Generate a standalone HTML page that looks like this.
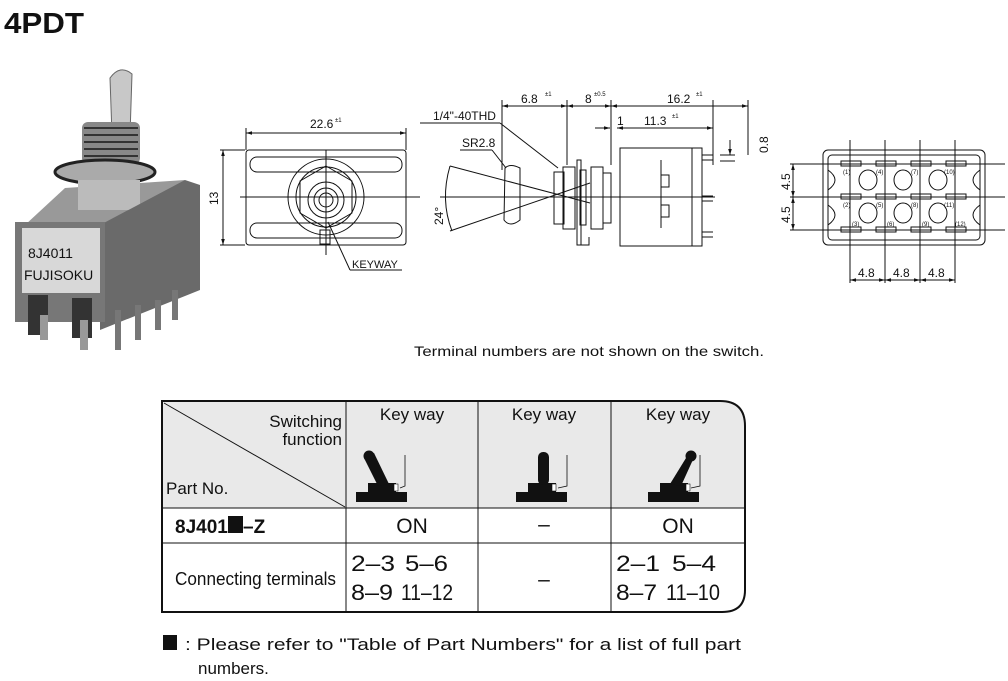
<!DOCTYPE html>
<html><head><meta charset="utf-8"><style>
body{margin:0;background:#fff;width:1008px;height:681px;overflow:hidden;font-family:"Liberation Sans",sans-serif}
svg{display:block}
text{font-family:"Liberation Sans",sans-serif;fill:#111}
</style></head><body>
<svg width="1008" height="681" viewBox="0 0 1008 681" xmlns="http://www.w3.org/2000/svg">
<defs>
<marker id="a" viewBox="0 0 10 10" refX="10" refY="5" markerWidth="6" markerHeight="6" orient="auto-start-reverse"><path d="M0,2 L10,5 L0,8z" fill="#111"/></marker>
</defs>
<text x="4" y="33" font-size="29" font-weight="bold" textLength="80" lengthAdjust="spacingAndGlyphs">4PDT</text>

<!-- photo -->
<g>
<path d="M110,78 Q120,64 132,74 L130,135 L112,135 Z" fill="#c8c8c8" stroke="#666"/>
<rect x="82" y="122" width="58" height="42" rx="6" fill="#888"/>
<path d="M84,128 h54 M84,135 h54 M84,142 h54 M84,149 h54 M84,156 h54" stroke="#333" stroke-width="2"/>
<ellipse cx="105" cy="172" rx="50" ry="12" fill="#aaa" stroke="#222" stroke-width="3"/>
<path d="M25,225 L65,188 L185,180 L150,225 Z" fill="#999"/>
<rect x="78" y="180" width="62" height="30" fill="#bbb"/>
<path d="M100,225 L185,180 L200,185 L200,290 L100,330 Z" fill="#6a6a6a"/>
<rect x="15" y="222" width="90" height="100" fill="#777"/>
<rect x="22" y="228" width="78" height="65" fill="#d8d8d8"/>
<text x="28" y="258" font-size="14" fill="#333">8J4011</text>
<text x="24" y="280" font-size="14" fill="#333">FUJISOKU</text>
<rect x="28" y="295" width="20" height="40" fill="#333"/>
<rect x="72" y="298" width="20" height="40" fill="#333"/>
<rect x="40" y="315" width="8" height="25" fill="#999"/>
<rect x="80" y="320" width="8" height="30" fill="#999"/>
<rect x="115" y="310" width="6" height="40" fill="#777"/>
<rect x="135" y="305" width="6" height="35" fill="#777"/>
<rect x="155" y="300" width="6" height="30" fill="#777"/>
<rect x="172" y="290" width="6" height="30" fill="#777"/>
</g>

<!-- front view -->
<g fill="none" stroke="#111" stroke-width="1">
<line x1="246" y1="128" x2="246" y2="150"/><line x1="406" y1="128" x2="406" y2="150"/>
<line x1="246" y1="133" x2="406" y2="133" marker-start="url(#a)" marker-end="url(#a)"/>
<line x1="220" y1="150" x2="245" y2="150"/><line x1="220" y1="245" x2="245" y2="245"/>
<line x1="223" y1="150" x2="223" y2="245" marker-start="url(#a)" marker-end="url(#a)"/>
<rect x="246" y="150" width="160" height="95" rx="3"/>
<rect x="250" y="157" width="152" height="15" rx="7"/>
<rect x="250" y="223" width="152" height="15" rx="7"/>
<line x1="240" y1="197" x2="420" y2="197"/>
<line x1="326" y1="150" x2="326" y2="255"/>
<circle cx="326" cy="197" r="38"/>
<circle cx="326" cy="197" r="30"/>
<polygon points="326,166 352,181 352,213 326,228 300,213 300,181"/>
<circle cx="326" cy="200" r="18"/><circle cx="326" cy="200" r="12"/><circle cx="326" cy="200" r="7"/>
<rect x="320" y="230" width="10" height="14"/>
<line x1="328" y1="222" x2="350" y2="270"/><line x1="350" y1="270" x2="402" y2="270"/>
</g>
<text x="310" y="128" font-size="12">22.6</text><text x="335" y="122" font-size="6">±1</text>
<text x="218" y="205" font-size="12" transform="rotate(-90 218 205)">13</text>
<text x="352" y="268" font-size="11">KEYWAY</text>

<!-- side view -->
<g fill="none" stroke="#111" stroke-width="1">
<line x1="502" y1="100" x2="502" y2="170"/><line x1="567" y1="100" x2="567" y2="165"/><line x1="611" y1="100" x2="611" y2="165"/><line x1="713" y1="100" x2="713" y2="165"/><line x1="748" y1="100" x2="748" y2="155"/>
<line x1="502" y1="106" x2="567" y2="106" marker-start="url(#a)" marker-end="url(#a)"/>
<line x1="567" y1="106" x2="611" y2="106" marker-start="url(#a)" marker-end="url(#a)"/>
<line x1="611" y1="106" x2="748" y2="106" marker-start="url(#a)" marker-end="url(#a)"/>
<line x1="617" y1="128" x2="713" y2="128" marker-start="url(#a)" marker-end="url(#a)"/>
<line x1="595" y1="128" x2="610" y2="128" marker-end="url(#a)"/>
<line x1="420" y1="123" x2="500" y2="123"/><line x1="500" y1="123" x2="558" y2="168"/>
<line x1="460" y1="150" x2="492" y2="150"/><line x1="492" y1="150" x2="506" y2="168"/>
<path d="M450,166 Q440,200 452,231"/>
<line x1="450" y1="166" x2="590" y2="203"/><line x1="450" y1="231" x2="590" y2="183"/>
<path d="M505,168 Q510,163 520,168 L520,220 Q510,228 504,220 Z"/>
<rect x="554" y="172" width="10" height="52"/>
<path d="M563,167 h12 v62 h-12 z M580,170 h6 v55 h-6 z M591,167 h12 v62 h-12z"/>
<rect x="577" y="160" width="4" height="85"/><path d="M577,245 h12 v-8"/>
<rect x="603" y="173" width="8" height="50"/>
<rect x="620" y="148" width="72" height="98"/>
<rect x="692" y="148" width="10" height="98"/>
<path d="M661,160 v68 M661,175 h8 v12 h-8 M661,205 h8 v12 h-8"/>
<line x1="702" y1="155" x2="713" y2="155"/><line x1="702" y1="160" x2="713" y2="160"/>
<line x1="702" y1="196" x2="713" y2="196"/><line x1="702" y1="201" x2="713" y2="201"/>
<line x1="702" y1="232" x2="713" y2="232"/><line x1="702" y1="237" x2="713" y2="237"/>
<line x1="440" y1="197" x2="715" y2="197"/>
<line x1="720" y1="155" x2="735" y2="155"/><line x1="720" y1="161" x2="735" y2="161"/>
<line x1="730" y1="140" x2="730" y2="155" marker-end="url(#a)"/>
</g>
<text x="521" y="103" font-size="12">6.8</text><text x="545" y="96" font-size="6">±1</text>
<text x="585" y="103" font-size="12">8</text><text x="594" y="96" font-size="6">±0.5</text>
<text x="667" y="103" font-size="12">16.2</text><text x="696" y="96" font-size="6">±1</text>
<text x="617" y="125" font-size="12">1</text>
<text x="644" y="125" font-size="12">11.3</text><text x="672" y="118" font-size="6">±1</text>
<text x="433" y="120" font-size="12">1/4"-40THD</text>
<text x="462" y="147" font-size="12">SR2.8</text>
<text x="443" y="225" font-size="12" transform="rotate(-90 443 225)">24°</text>
<text x="768" y="153" font-size="12" transform="rotate(-90 768 153)">0.8</text>

<!-- rear view -->
<g fill="none" stroke="#111" stroke-width="1">
<rect x="823" y="150" width="162" height="95" rx="5"/>
<rect x="828" y="155" width="152" height="85" rx="4"/>
<line x1="790" y1="164" x2="1005" y2="164"/><line x1="790" y1="197" x2="1005" y2="197"/><line x1="790" y1="230" x2="1005" y2="230"/>
<line x1="850" y1="140" x2="850" y2="283"/><line x1="885" y1="140" x2="885" y2="283"/><line x1="920" y1="140" x2="920" y2="283"/><line x1="955" y1="140" x2="955" y2="283"/>
<g>
<rect x="841" y="161" width="20" height="5"/><rect x="876" y="161" width="20" height="5"/><rect x="911" y="161" width="20" height="5"/><rect x="946" y="161" width="20" height="5"/>
<rect x="841" y="194" width="20" height="5"/><rect x="876" y="194" width="20" height="5"/><rect x="911" y="194" width="20" height="5"/><rect x="946" y="194" width="20" height="5"/>
<rect x="841" y="227" width="20" height="5"/><rect x="876" y="227" width="20" height="5"/><rect x="911" y="227" width="20" height="5"/><rect x="946" y="227" width="20" height="5"/>
</g>
<ellipse cx="868" cy="180" rx="9" ry="10"/><ellipse cx="903" cy="180" rx="9" ry="10"/><ellipse cx="938" cy="180" rx="9" ry="10"/>
<ellipse cx="868" cy="213" rx="9" ry="10"/><ellipse cx="903" cy="213" rx="9" ry="10"/><ellipse cx="938" cy="213" rx="9" ry="10"/>
<path d="M828,170 Q842,180 828,190 M828,205 Q842,215 828,225 M980,170 Q966,180 980,190 M980,205 Q966,215 980,225"/>
<line x1="793" y1="164" x2="793" y2="197" marker-start="url(#a)" marker-end="url(#a)"/>
<line x1="793" y1="197" x2="793" y2="230" marker-start="url(#a)" marker-end="url(#a)"/>
<line x1="850" y1="280" x2="885" y2="280" marker-start="url(#a)" marker-end="url(#a)"/>
<line x1="885" y1="280" x2="920" y2="280" marker-start="url(#a)" marker-end="url(#a)"/>
<line x1="920" y1="280" x2="955" y2="280" marker-start="url(#a)" marker-end="url(#a)"/>
</g>
<text x="790" y="190" font-size="12" transform="rotate(-90 790 190)">4.5</text>
<text x="790" y="223" font-size="12" transform="rotate(-90 790 223)">4.5</text>
<text x="858" y="277" font-size="12">4.8</text><text x="893" y="277" font-size="12">4.8</text><text x="928" y="277" font-size="12">4.8</text>
<g font-size="6"><text x="843" y="174">(1)</text><text x="876" y="174">(4)</text><text x="911" y="174">(7)</text><text x="944" y="174">(10)</text>
<text x="843" y="207">(2)</text><text x="876" y="207">(5)</text><text x="911" y="207">(8)</text><text x="944" y="207">(11)</text>
<text x="852" y="226">(3)</text><text x="887" y="226">(6)</text><text x="922" y="226">(9)</text><text x="955" y="226">(12)</text></g>

<text x="414" y="356" font-size="14" textLength="350" lengthAdjust="spacingAndGlyphs">Terminal numbers are not shown on the switch.</text>

<!-- table -->
<path d="M162,401 H720 Q745,401 745,426 V590 Q745,612 722,612 H162 Z" fill="#fff"/>
<path d="M162,401 H720 Q745,401 745,426 V508 H162 Z" fill="#e9e9e9"/>
<g stroke="#111" fill="none">
<path d="M162,401 H720 Q745,401 745,426 V590 Q745,612 722,612 H162 Z" stroke-width="2"/>
<line x1="162" y1="508" x2="745" y2="508"/><line x1="162" y1="543" x2="745" y2="543"/>
<line x1="346" y1="401" x2="346" y2="612"/><line x1="478" y1="401" x2="478" y2="612"/><line x1="611" y1="401" x2="611" y2="612"/>
<line x1="164" y1="403" x2="345" y2="507"/>
</g>
<text x="342" y="427" font-size="17" text-anchor="end">Switching</text>
<text x="342" y="445" font-size="17" text-anchor="end">function</text>
<text x="166" y="494" font-size="17">Part No.</text>
<g font-size="17" text-anchor="middle"><text x="412" y="420">Key way</text><text x="544" y="420">Key way</text><text x="678" y="420">Key way</text></g>
<!-- toggles -->
<g fill="#111">
<rect x="356" y="492" width="51" height="10"/><rect x="368" y="483" width="28" height="10"/>
<path d="M364,458 L374,453 L389,484 L378,486 Z"/><circle cx="369" cy="456" r="5.5"/>
<rect x="516" y="492" width="51" height="10"/><rect x="528" y="483" width="28" height="10"/>
<rect x="538" y="452" width="11" height="33" rx="5"/>
<rect x="648" y="492" width="51" height="10"/><rect x="660" y="483" width="28" height="10"/>
<path d="M686,458 L696,453 L681,486 L670,484 Z"/><circle cx="691" cy="456" r="5.5"/>
</g>
<g fill="#fff" stroke="#111" stroke-width="0.6"><rect x="394" y="484" width="4" height="7"/><rect x="552" y="484" width="4" height="7"/><rect x="686" y="484" width="4" height="7"/></g>
<g stroke="#111" stroke-width="0.8"><path d="M405,455 V486 L400,488 M567,455 V486 L558,488 M700,455 V486 L691,488" fill="none"/></g>
<text x="175" y="533" font-size="19" font-weight="bold">8J401</text><rect x="228" y="516" width="15" height="17" fill="#111"/><text x="243" y="533" font-size="19" font-weight="bold">–Z</text>
<g font-size="21" text-anchor="middle"><text x="412" y="533">ON</text><text x="544" y="531">–</text><text x="678" y="533">ON</text><text x="544" y="586">–</text></g>
<text x="175" y="585" font-size="18" textLength="161" lengthAdjust="spacingAndGlyphs">Connecting terminals</text>
<g font-size="22">
<text x="351" y="571" textLength="44" lengthAdjust="spacingAndGlyphs">2–3</text><text x="405" y="571" textLength="43" lengthAdjust="spacingAndGlyphs">5–6</text>
<text x="351" y="600" textLength="42" lengthAdjust="spacingAndGlyphs">8–9</text><text x="401" y="600" textLength="52" lengthAdjust="spacingAndGlyphs">11–12</text>
<text x="616" y="571" textLength="44" lengthAdjust="spacingAndGlyphs">2–1</text><text x="672" y="571" textLength="44" lengthAdjust="spacingAndGlyphs">5–4</text>
<text x="616" y="600" textLength="41" lengthAdjust="spacingAndGlyphs">8–7</text><text x="666" y="600" textLength="54" lengthAdjust="spacingAndGlyphs">11–10</text>
</g>

<rect x="163" y="635" width="14" height="15" fill="#111"/>
<text x="185" y="650" font-size="17" textLength="556" lengthAdjust="spacingAndGlyphs">:  Please refer to "Table of Part Numbers"  for a list of full part</text>
<text x="198" y="674" font-size="17">numbers.</text>
</svg>
</body></html>
